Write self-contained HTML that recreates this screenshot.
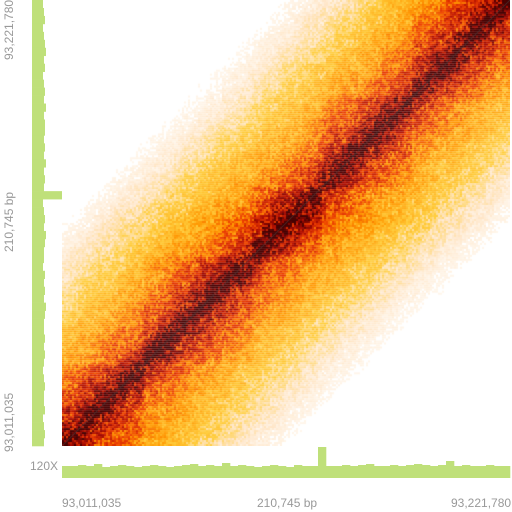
<!DOCTYPE html>
<html><head><meta charset="utf-8"><style>
body{margin:0;width:512px;height:512px;background:#fff;overflow:hidden;position:relative;font-family:"Liberation Sans",sans-serif;}
.lbl{position:absolute;color:#999;font-size:12px;white-space:nowrap;}
.rot{transform-origin:0 0;transform:rotate(-90deg);}
</style></head><body>
<canvas id="hm" width="448" height="446" style="position:absolute;left:62px;top:0;"></canvas>
<svg id="cov" width="512" height="512" style="position:absolute;left:0;top:0;"></svg>
<div class="lbl" style="left:62px;top:496px;">93,011,035</div>
<div class="lbl" style="left:257px;top:496px;">210,745 bp</div>
<div class="lbl" style="left:451px;top:496px;">93,221,780</div>
<div class="lbl rot" style="left:2px;top:60px;">93,221,780</div>
<div class="lbl rot" style="left:2px;top:252px;">210,745 bp</div>
<div class="lbl rot" style="left:2px;top:452px;">93,011,035</div>
<div class="lbl" style="left:30px;top:459px;">120X</div>
<script>
const decay=[1.0,0.85,0.72,0.62,0.55,0.49,0.44,0.40,0.36,0.33,0.30,0.27,0.25,0.23,0.21,0.19,0.17,0.155,0.14,0.125,0.11,0.10,0.09,0.08,0.07,0.062,0.055,0.048,0.042,0.036,0.03,0.026,0.022,0.018,0.015,0.012,0.01,0.008,0.006,0.004,0.003,0.002,0.001,0.0005,0.0002];
const domains=[0,0.18,0.42,0.58,0.78,1.0];
const covBottom=[12,12,13,12,14,11,12,13,12,11,12,13,12,11,12,13,14,12,13,12,15,12,13,12,11,12,13,12,11,13,12,12,31,12,12,13,12,13,14,12,12,13,12,13,14,13,12,13,17,12,13,12,12,13,12,12];
const covLeft=[11,12,13,11,12,13,14,12,13,11,12,13,12,14,12,13,13,12,13,12,14,12,13,12,30,11,12,13,12,14,13,12,12,11,13,12,13,12,14,13,12,12,13,12,13,12,11,12,13,12,12,13,11,12,13,12];
const N=224,cw=448/N,ch=446/N;
const cv=document.getElementById('hm'),ctx=cv.getContext('2d');
function hash(a,b){let h=(a*374761393+b*668265263)|0;h=(h^(h>>>13))*1274126177|0;return ((h^(h>>>16))>>>0)/4294967295;}
function dom(p){for(let k=0;k<domains.length-1;k++)if(p>=domains[k]&&p<domains[k+1])return k;return domains.length-2;}
function col(v){
  const stops=[[0,255,255,255],[0.04,255,230,200],[0.1,255,205,60],[0.25,255,150,0],[0.45,235,60,0],[0.7,170,10,0],[1,70,0,0]];
  v=Math.max(0,Math.min(1,v));
  for(let k=1;k<stops.length;k++){if(v<=stops[k][0]){const a=stops[k-1],b=stops[k],t=(v-a[0])/(b[0]-a[0]);return `rgb(${Math.round(a[1]+(b[1]-a[1])*t)},${Math.round(a[2]+(b[2]-a[2])*t)},${Math.round(a[3]+(b[3]-a[3])*t)})`;}}
}
for(let i=0;i<N;i++)for(let j=0;j<N;j++){
  const gy=N-1-j,d=Math.abs(i-gy);
  const f=d/3.2,di=Math.floor(f),t=f-di;
  let v=di+1<decay.length?decay[di]*(1-t)+decay[di+1]*t:0;
  if(dom(i/N)===dom(gy/N))v*=1.2;
  const h=hash(i,j),hr=hash(i>>2,(j>>2)+999);
  v*=0.4+0.7*h+0.3*hr;
  if(v<0.015)continue;
  ctx.fillStyle=col(v);ctx.fillRect(i*cw,j*ch,cw,ch);
}
ctx.strokeStyle='rgba(70,60,60,0.8)';ctx.lineWidth=1;ctx.beginPath();ctx.moveTo(0,446);ctx.lineTo(448,0);ctx.stroke();
const svg=document.getElementById('cov'),NS='http://www.w3.org/2000/svg';
const bw=448/covBottom.length;
covBottom.forEach((v,k)=>{const r=document.createElementNS(NS,'rect');


r.setAttribute('x',62+k*bw);r.setAttribute('width',bw+0.3);r.setAttribute('y',478-v);r.setAttribute('height',v);r.setAttribute('fill','#bfe07a');svg.appendChild(r);});
const bh=446/covLeft.length;
covLeft.forEach((v,k)=>{const r=document.createElementNS(NS,'rect');


r.setAttribute('x',32);r.setAttribute('width',v);r.setAttribute('y',k*bh);r.setAttribute('height',bh+0.3);r.setAttribute('fill','#bfe07a');svg.appendChild(r);});
</script>
</body></html>
